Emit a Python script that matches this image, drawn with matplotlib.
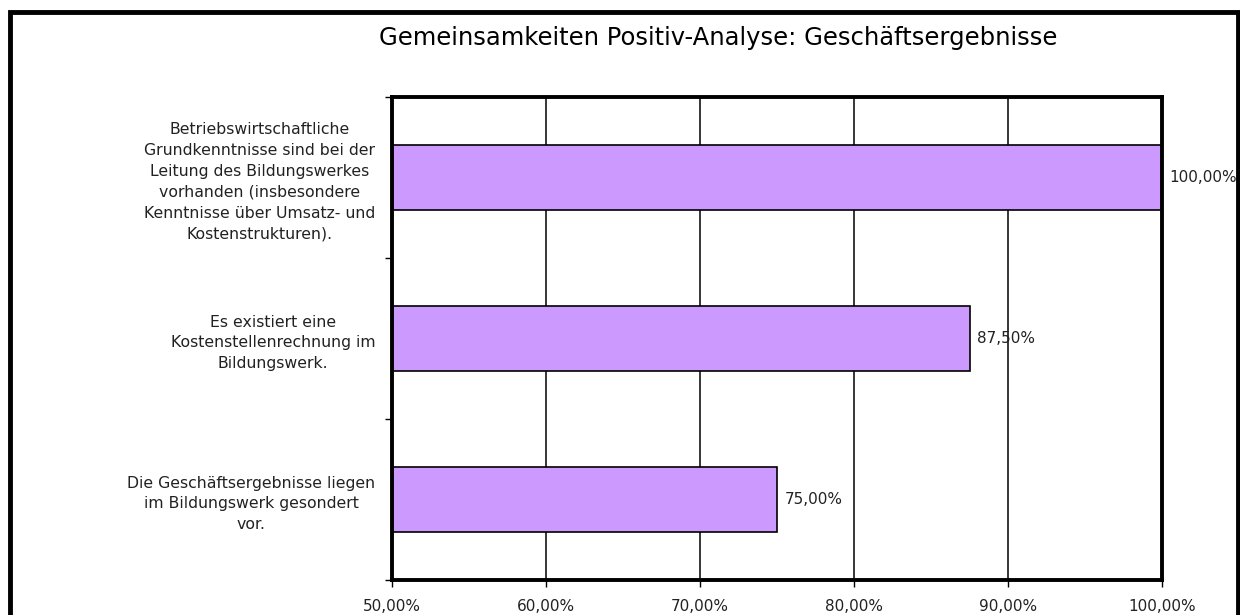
import matplotlib
matplotlib.use("Agg")
import matplotlib.pyplot as plt
from matplotlib.patches import Rectangle
import numpy as np

categories = [
    "Die Geschäftsergebnisse liegen\nim Bildungswerk gesondert\nvor.",
    "Es existiert eine\nKostenstellenrechnung im\nBildungswerk.",
    "Betriebswirtschaftliche\nGrundkenntnisse sind bei der\nLeitung des Bildungswerkes\nvorhanden (insbesondere\nKenntnisse über Umsatz- und\nKostenstrukturen).",
]
values = [75.0, 87.5, 100.0]
xticks = [50, 60, 70, 80, 90, 100]
title = "Gemeinsamkeiten Positiv-Analyse: Geschäftsergebnisse"

def pct(v):
    return f"{v:.2f}".replace(".", ",") + "%"

fig = plt.figure(figsize=(12.4, 6.15), dpi=100)
ax = fig.add_axes([392 / 1240, 1 - 580 / 615, (1162 - 392) / 1240, (580 - 97) / 615])

y = np.arange(len(categories))
ax.barh(y, values, height=0.4, color="#CC99FF", edgecolor="black", linewidth=1.2, zorder=3)
for yi, v in zip(y, values):
    ax.text(v + 0.5, yi, pct(v), va="center", ha="left", fontsize=11, color="#222222",
            zorder=4, clip_on=False)

ax.set_xlim(50, 100)
ax.set_ylim(-0.5, len(categories) - 0.5)
ax.set_xticks(xticks)
ax.set_xticklabels([pct(v) for v in xticks], fontsize=11, color="#222222")
ax.grid(axis="x", color="black", linewidth=1.1, zorder=1)

ax.set_yticks(y)
ax.set_yticklabels(categories, fontsize=11.3, color="#222222", linespacing=1.48)
for lab in ax.get_yticklabels():
    lab.set_multialignment("center")
ax.set_yticks(np.arange(-0.5, len(categories)), minor=True)
ax.tick_params(axis="y", which="major", length=0, pad=12)
ax.tick_params(axis="y", which="minor", length=5, width=1, direction="out")
ax.tick_params(axis="x", length=5, width=1, direction="out", pad=9)

for s in ax.spines.values():
    s.set_linewidth(2.8)
    s.set_zorder(5)

fig.text(718 / 1240, 1 - 38 / 615, title, fontsize=17.5, ha="center", va="center")

fig.patches.append(Rectangle((9.5 / 1240, -0.1), (1237.5 - 9.5) / 1240, 1 - 12.5 / 615 + 0.1,
                             transform=fig.transFigure, fill=False, edgecolor="black",
                             linewidth=3.5, clip_on=False))

fig.savefig("out.png", dpi=100)
